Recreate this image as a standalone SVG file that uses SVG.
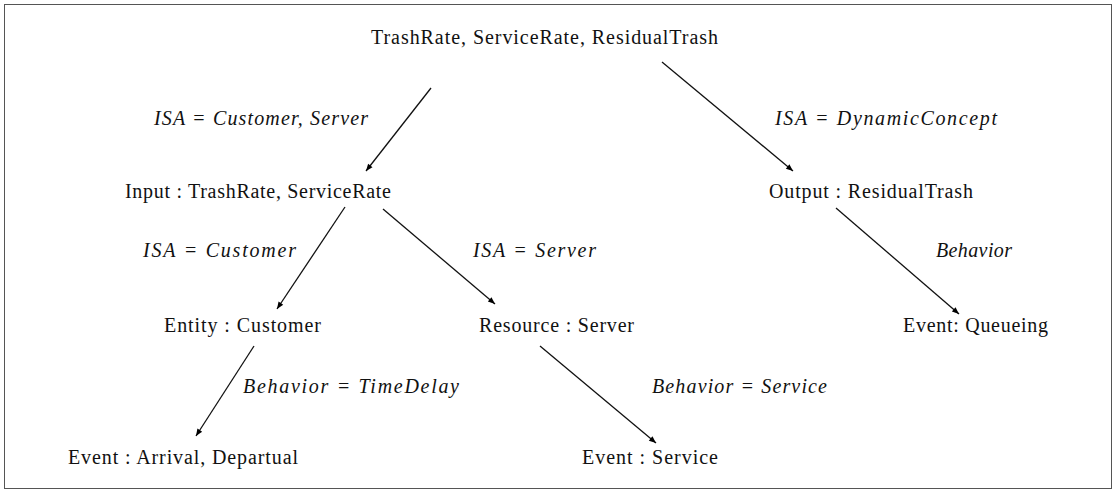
<svg xmlns="http://www.w3.org/2000/svg" width="1117" height="493" viewBox="0 0 1117 493">
<defs>
<marker id="ah" viewBox="0 0 10 10" refX="10" refY="5" markerWidth="9" markerHeight="7" markerUnits="userSpaceOnUse" orient="auto">
<path d="M0,1 L10,5 L0,9 Z" fill="#000"/>
</marker>
<style>
.n{font-family:"Liberation Serif","Times New Roman",serif;font-size:20px;fill:#111}
.l{font-family:"Liberation Serif","Times New Roman",serif;font-size:20px;font-style:italic;fill:#111}
.c{stroke:#111;stroke-width:1.3;fill:none;marker-end:url(#ah)}
</style>
</defs>
<rect x="4.5" y="4.5" width="1107" height="484" fill="#fff" stroke="#555" stroke-width="1"/>
<g id="connectors">
<line class="c" x1="431" y1="88" x2="366" y2="171"/>
<line class="c" x1="662" y1="62" x2="793" y2="171"/>
<line class="c" x1="345" y1="207" x2="277" y2="309"/>
<line class="c" x1="383" y1="209" x2="495" y2="304"/>
<line class="c" x1="836" y1="208" x2="959" y2="314"/>
<line class="c" x1="254" y1="346" x2="196" y2="436"/>
<line class="c" x1="540" y1="346" x2="656" y2="443"/>
</g>
<g id="labels">
<text class="l" x="154" y="125" textLength="214" lengthAdjust="spacing">ISA = Customer, Server</text>
<text class="l" x="775" y="125" textLength="222" lengthAdjust="spacing">ISA = DynamicConcept</text>
<text class="l" x="143" y="257" textLength="153" lengthAdjust="spacing">ISA = Customer</text>
<text class="l" x="473" y="257" textLength="123" lengthAdjust="spacing">ISA = Server</text>
<text class="l" x="936" y="257" textLength="76" lengthAdjust="spacing">Behavior</text>
<text class="l" x="243" y="393" textLength="216" lengthAdjust="spacing">Behavior = TimeDelay</text>
<text class="l" x="652" y="393" textLength="175" lengthAdjust="spacing">Behavior = Service</text>
</g>
<g id="node-top"><text class="n" x="371" y="44" textLength="347" lengthAdjust="spacing">TrashRate, ServiceRate, ResidualTrash</text></g>
<g id="node-input"><text class="n" x="125" y="198" textLength="266" lengthAdjust="spacing">Input : TrashRate, ServiceRate</text></g>
<g id="node-output"><text class="n" x="769" y="198" textLength="204" lengthAdjust="spacing">Output : ResidualTrash</text></g>
<g id="node-entity"><text class="n" x="164" y="332" textLength="157" lengthAdjust="spacing">Entity : Customer</text></g>
<g id="node-resource"><text class="n" x="479" y="332" textLength="155" lengthAdjust="spacing">Resource : Server</text></g>
<g id="node-queueing"><text class="n" x="903" y="332" textLength="145" lengthAdjust="spacing">Event: Queueing</text></g>
<g id="node-arrival"><text class="n" x="68" y="464" textLength="230" lengthAdjust="spacing">Event : Arrival, Departual</text></g>
<g id="node-service"><text class="n" x="582" y="464" textLength="136" lengthAdjust="spacing">Event : Service</text></g>
</svg>
